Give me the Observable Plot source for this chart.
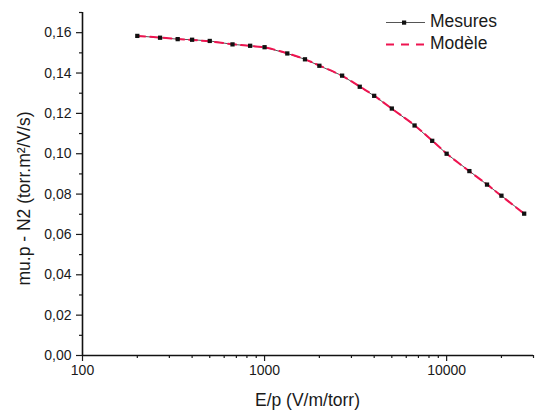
<!DOCTYPE html>
<html><head><meta charset="utf-8">
<script src="https://cdn.jsdelivr.net/npm/d3@7"></script>
<script src="https://cdn.jsdelivr.net/npm/@observablehq/plot@0.6"></script>
<style>body{margin:0;background:#fff} svg{display:block}</style>
</head><body><div id="chart"></div>
<script>
const ep = [200, 266.7, 333.3, 400, 500, 666.7, 833.3, 1000, 1333, 1667, 2000, 2667, 3333, 4000, 5000, 6667, 8333, 10000, 13333, 16667, 20000, 26667];
const mesures = [0.1584, 0.1575, 0.1568, 0.1565, 0.1559, 0.1542, 0.1535, 0.1528, 0.1497, 0.1468, 0.1436, 0.1387, 0.1332, 0.1287, 0.1224, 0.1140, 0.1064, 0.1000, 0.0914, 0.0847, 0.0792, 0.0703];
const modele = [0.1584, 0.1576, 0.1569, 0.1564, 0.1557, 0.1543, 0.1534, 0.1527, 0.1498, 0.1468, 0.1437, 0.1386, 0.1333, 0.1288, 0.1223, 0.1141, 0.1065, 0.1001, 0.0913, 0.0848, 0.0791, 0.0703];
const xMajor = [100, 1000, 10000];
const xMinor = [200, 300, 400, 500, 600, 700, 800, 900, 2000, 3000, 4000, 5000, 6000, 7000, 8000, 9000, 20000, 30000];
const yMajor = [0, 0.02, 0.04, 0.06, 0.08, 0.10, 0.12, 0.14, 0.16];
const yMinor = [0.01, 0.03, 0.05, 0.07, 0.09, 0.11, 0.13, 0.15, 0.17];
const xLabel = "E/p (V/m/torr)";
const yLabel = "mu.p - N2 (torr.m²/V/s)";
const seriesNames = ["Mesures", "Modèle"];

const dataMes = ep.map((x, i) => ({x, y: mesures[i]}));
const dataMod = ep.map((x, i) => ({x, y: modele[i]}));
const font = "'Liberation Sans', Arial, sans-serif";
const fmt = d => d.toFixed(2).replace(".", ",");
const red = "#ee1450";

const chart = Plot.plot({
  width: 536, height: 416,
  marginLeft: 82, marginRight: 3, marginTop: 12, marginBottom: 61,
  style: {fontFamily: font, background: "#fff", color: "#1a1a1a"},
  x: {type: "log", domain: [100, 30000]},
  y: {domain: [0, 0.17]},
  marks: [
    Plot.axisX({ticks: xMajor, tickFormat: d => String(d), tickSize: 6, tickPadding: 4, fontSize: 14, label: null, strokeWidth: 1.2}),
    Plot.axisX({ticks: xMinor, tickFormat: () => "", tickSize: 3, label: null, strokeWidth: 1.2}),
    Plot.axisY({ticks: yMajor, tickFormat: fmt, tickSize: 6, tickPadding: 5, fontSize: 14, label: null, strokeWidth: 1.2}),
    Plot.axisY({ticks: yMinor, tickFormat: () => "", tickSize: 3, label: null, strokeWidth: 1.2}),
    Plot.ruleY([0], {stroke: "#111", strokeWidth: 1.6}),
    Plot.ruleX([100], {stroke: "#111", strokeWidth: 1.6}),
    Plot.line(dataMes, {x: "x", y: "y", stroke: "#555", strokeWidth: 1}),
    Plot.line(dataMod, {x: "x", y: "y", stroke: red, strokeWidth: 2, strokeDasharray: "8,5", curve: "catmull-rom"}),
    Plot.dot(dataMes, {x: "x", y: "y", symbol: "square", r: 2.4, fill: "#111", stroke: "none"})
  ]
});
document.getElementById("chart").appendChild(chart);

const svg = d3.select(chart);
svg.append("text").attr("x", 307.5).attr("y", 401).attr("text-anchor", "middle")
  .attr("dominant-baseline", "middle").attr("font-size", 17.5).attr("fill", "#1a1a1a").text(xLabel);
svg.append("text").attr("transform", "translate(25,198.5) rotate(-90)").attr("text-anchor", "middle")
  .attr("dominant-baseline", "middle").attr("font-size", 17.5).attr("fill", "#1a1a1a").text(yLabel);

const lg = svg.append("g");
lg.append("line").attr("x1", 386).attr("x2", 425).attr("y1", 22.5).attr("y2", 22.5).attr("stroke", "#555").attr("stroke-width", 1);
lg.append("rect").attr("x", 402).attr("y", 20.5).attr("width", 4.2).attr("height", 4.2).attr("fill", "#111");
lg.append("line").attr("x1", 386).attr("x2", 425).attr("y1", 44.5).attr("y2", 44.5).attr("stroke", red).attr("stroke-width", 2).attr("stroke-dasharray", "8,7");
lg.append("text").attr("x", 430).attr("y", 22.5).attr("text-anchor", "start").attr("dominant-baseline", "middle").attr("font-size", 17.5).attr("fill", "#1a1a1a").text(seriesNames[0]);
lg.append("text").attr("x", 430).attr("y", 44.5).attr("text-anchor", "start").attr("dominant-baseline", "middle").attr("font-size", 17.5).attr("fill", "#1a1a1a").text(seriesNames[1]);
</script>
</body></html>
